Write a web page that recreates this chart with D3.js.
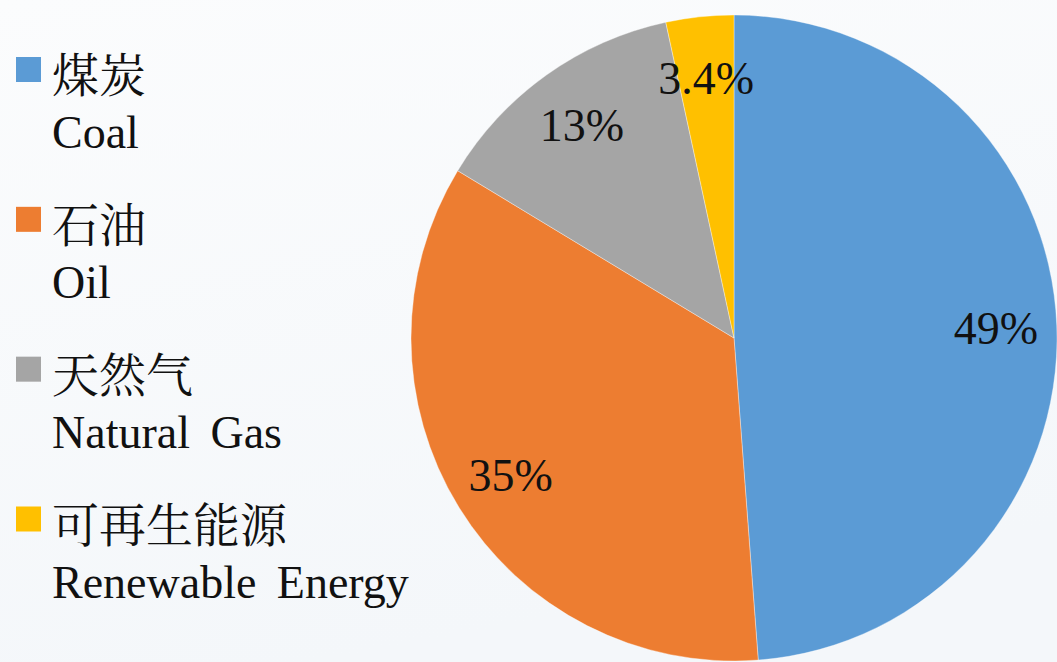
<!DOCTYPE html>
<html>
<head>
<meta charset="utf-8">
<script src="https://cdn.jsdelivr.net/npm/d3@7"></script>
<style>
  svg { font-family: "Liberation Serif"; }
  svg text.latin { font: 46px "Liberation Serif" !important; }
  svg text.hanzi { font: 47px "Noto Serif CJK SC" !important; }
</style>
</head>
<body style="margin:0">
<script>
// Energy mix shares (percent)
const namesZh = ["煤炭", "石油", "天然气", "可再生能源"];
const namesEn = ["Coal", "Oil", "Natural Gas", "Renewable Energy"];
const shares = [49, 35, 13, 3.4];
const shareLabels = ["49%", "35%", "13%", "3.4%"];
const colors = ["#5B9BD5", "#ED7D31", "#A5A5A5", "#FFC000"];

const W = 1057, H = 662;
const cx = 734, cy = 338, R = 323, labelR = 262;

const svg = d3.select("body").append("svg")
  .attr("width", W).attr("height", H)
  .attr("font-family", "Liberation Serif")
  .style("display", "block");

// soft pale background
const defs = svg.append("defs");
const bg = defs.append("linearGradient").attr("id", "bg")
  .attr("x1", 0).attr("y1", 0).attr("x2", 0.3).attr("y2", 1);
bg.append("stop").attr("offset", 0).attr("stop-color", "#fbfcfd");
bg.append("stop").attr("offset", 1).attr("stop-color", "#f4f7fa");
svg.append("rect").attr("width", W).attr("height", H).attr("fill", "url(#bg)");

const pie = d3.pie().sort(null).value(d => d);
const arcs = pie(shares);
const arc = d3.arc().innerRadius(0).outerRadius(R);
const labelArc = d3.arc().innerRadius(labelR).outerRadius(labelR);

const g = svg.append("g").attr("transform", `translate(${cx},${cy})`);
g.selectAll("path").data(arcs).join("path")
  .attr("d", arc)
  .attr("fill", (d, i) => colors[i])
  .attr("stroke", "#ffffff")
  .attr("stroke-opacity", 0.6)
  .attr("stroke-width", 0.6);

g.selectAll("text.val").data(arcs).join("text")
  .attr("class", "val latin")
  .attr("transform", d => `translate(${labelArc.centroid(d)})`)
  .attr("text-anchor", "middle")
  .attr("dy", "0.35em")
  .style("font", "46px \"Liberation Serif\"")
  .attr("fill", "#111")
  .text((d, i) => shareLabels[i]);

// legend
const legendY = d3.scalePoint().domain(d3.range(namesZh.length)).range([69.5, 519]);
const item = svg.append("g").selectAll("g").data(namesZh).join("g")
  .attr("transform", (d, i) => `translate(0,${legendY(i)})`);
item.append("rect")
  .attr("x", 16).attr("y", -12.5).attr("width", 25).attr("height", 25)
  .attr("fill", (d, i) => colors[i]);
item.append("text")
  .attr("class", "hanzi")
  .attr("x", 52).attr("y", 2)
  .attr("dominant-baseline", "central")
  .style("font", "47px \"Noto Serif CJK SC\"")
  .attr("fill", "#111")
  .text(d => d);
item.append("text")
  .attr("class", "latin")
  .attr("x", 52).attr("y", 78.5)
  .style("font", "46px \"Liberation Serif\"")
  .attr("word-spacing", 9)
  .attr("fill", "#111")
  .text((d, i) => namesEn[i]);
</script>
</body>
</html>
